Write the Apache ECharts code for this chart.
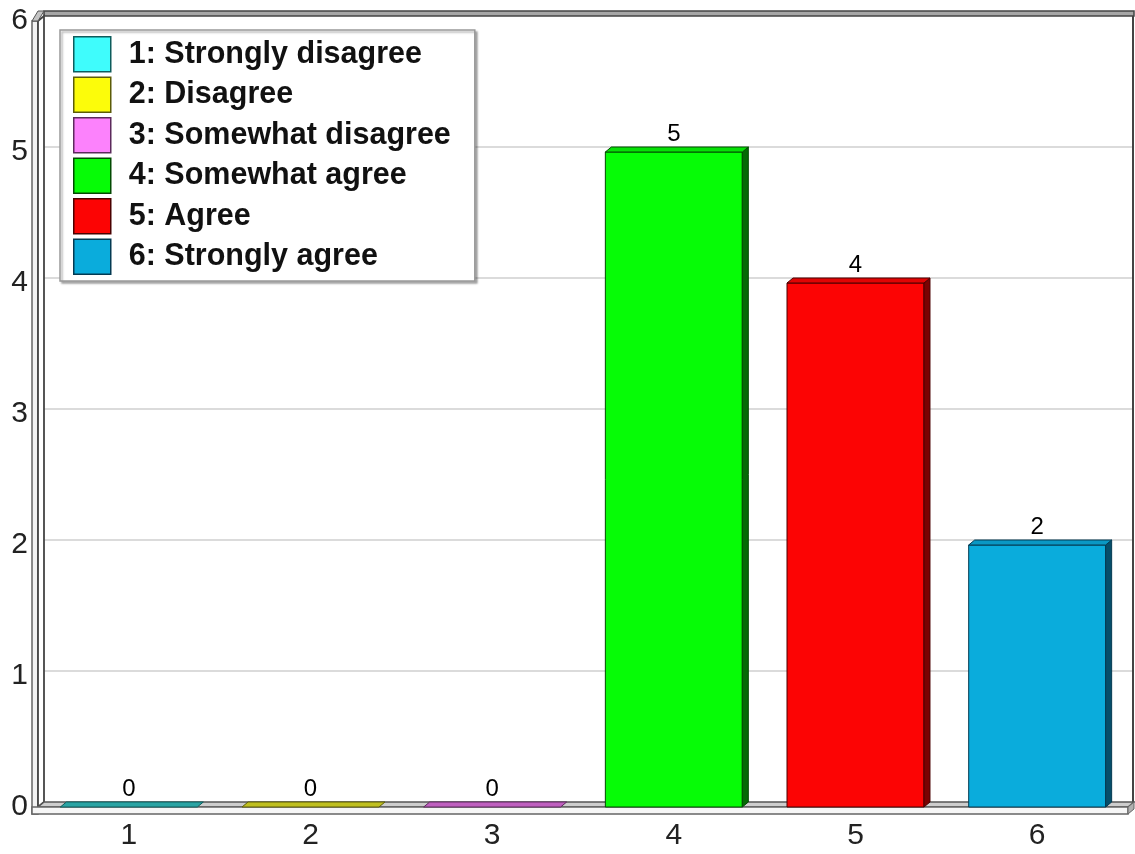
<!DOCTYPE html>
<html>
<head>
<meta charset="utf-8">
<script src="https://cdn.jsdelivr.net/npm/echarts@6/dist/echarts.min.js"></script>
<style>
  html, body { margin: 0; padding: 0; background: #ffffff; }
  #chart { width: 1135px; height: 854px; }
</style>
</head>
<body>
<div id="chart"></div>
<script>
// Survey answers: categories on the x axis, one response count per category
const categories = ['1', '2', '3', '4', '5', '6'];
const answerLabels = [
  '1: Strongly disagree',
  '2: Disagree',
  '3: Somewhat disagree',
  '4: Somewhat agree',
  '5: Agree',
  '6: Strongly agree'
];
const responseCounts = [0, 0, 0, 5, 4, 2];
const valueTicks = [0, 1, 2, 3, 4, 5, 6];

// Bar palette: front face, top face, side face, outline
const faceColors = ['#3ffcfc', '#fcfc0a', '#fc82fc', '#06fc06', '#fc0404', '#0aacdc'];
const topColors  = ['#2aa4a4', '#c0c020', '#c060c0', '#06e006', '#e00404', '#0a98c4'];
const sideColors = ['#1a7a7a', '#7a7a10', '#7a3a7a', '#046a04', '#7a0202', '#064e6a'];
const edgeColors = ['#0d5c5c', '#5c5c08', '#5c2a5c', '#034a03', '#4a0101', '#043a52'];

const DX = 6, DY = 5;          // depth offset used for the pseudo-3D look
const BAR_RATIO = 0.754;       // bar width as a share of the category band
const FONT = "'Liberation Sans', Arial, Helvetica, sans-serif";

function renderBar(params, api) {
  const i = api.value(0);
  const v = api.value(1);
  const base = api.coord([i, 0]);
  const top = api.coord([i, v]);
  const w = api.size([1, 0])[0] * BAR_RATIO;
  const x0 = base[0] - w / 2, x1 = base[0] + w / 2;
  const yb = base[1], yt = top[1];
  const children = [];
  if (yb - yt > 0.5) {
    children.push({
      type: 'rect',
      shape: { x: x0, y: yt, width: w, height: yb - yt },
      style: { fill: faceColors[i], stroke: edgeColors[i], lineWidth: 1 }
    });
    children.push({
      type: 'polygon',
      shape: { points: [[x1, yt], [x1 + DX, yt - DY], [x1 + DX, yb - DY], [x1, yb]] },
      style: { fill: sideColors[i], stroke: edgeColors[i], lineWidth: 1 }
    });
  }
  children.push({
    type: 'polygon',
    shape: { points: [[x0, yt], [x0 + DX, yt - DY], [x1 + DX, yt - DY], [x1, yt]] },
    style: { fill: topColors[i], stroke: edgeColors[i], lineWidth: 1 }
  });
  children.push({
    type: 'text',
    x: base[0],
    y: yt - DY - 0.5,
    style: {
      text: String(v), fill: '#000000',
      fontSize: 24, fontFamily: FONT,
      align: 'center', verticalAlign: 'bottom'
    }
  });
  return { type: 'group', children: children };
}

// Walls, floor and gridlines of the box around the plot
function renderFrame(params, api) {
  const cs = params.coordSys;
  const L = cs.x, R = cs.x + cs.width, T = cs.y, B = cs.y + cs.height;
  const OUT = L - 6;   // outer face of the left wall and floor slab
  const els = [];

  valueTicks.forEach(function (t) {
    if (t === valueTicks[0] || t === valueTicks[valueTicks.length - 1]) return;
    const y = api.coord([0, t])[1];
    els.push({ type: 'line', shape: { x1: L, y1: y, x2: L + DX, y2: y - DY },
               style: { stroke: '#cccccc', lineWidth: 1 } });
    els.push({ type: 'line', shape: { x1: L + DX, y1: y - DY, x2: R + DX, y2: y - DY },
               style: { stroke: '#cfcfcf', lineWidth: 1.5 } });
  });

  // back top edge
  els.push({ type: 'rect', shape: { x: L + DX, y: T - DY - 5, width: R - L, height: 5 },
             style: { fill: '#a6a6a6', stroke: '#444', lineWidth: 1.5 } });
  // right back edge
  els.push({ type: 'line', shape: { x1: R + DX - 1, y1: T - DY, x2: R + DX - 1, y2: B - DY },
             style: { stroke: '#444', lineWidth: 2 } });
  // left wall slab
  els.push({ type: 'rect', shape: { x: OUT, y: T, width: L - OUT, height: B + 7 - T },
             style: { fill: '#f2f2f2', stroke: '#666', lineWidth: 1.5 } });
  els.push({ type: 'polygon', shape: { points: [[L, T], [L + DX, T - DY], [L + DX, B - DY], [L, B]] },
             style: { fill: '#ffffff', stroke: '#444', lineWidth: 1.8 } });
  els.push({ type: 'polygon', shape: { points: [[OUT, T], [OUT + DX, T - DY - 5], [L + DX, T - DY - 5], [L, T]] },
             style: { fill: '#c4c4c4', stroke: '#555', lineWidth: 1 } });
  // floor
  els.push({ type: 'polygon', shape: { points: [[L, B], [L + DX, B - DY], [R + DX, B - DY], [R, B]] },
             style: { fill: '#cdcdcd', stroke: '#555', lineWidth: 1.5 } });
  els.push({ type: 'rect', shape: { x: OUT, y: B, width: R - OUT, height: 7 },
             style: { fill: '#f6f6f6', stroke: '#666', lineWidth: 1.5 } });
  els.push({ type: 'polygon', shape: { points: [[R, B], [R + DX, B - DY], [R + DX, B - DY + 7], [R, B + 7]] },
             style: { fill: '#b0b0b0', stroke: '#666', lineWidth: 1 } });
  return { type: 'group', children: els };
}

const chart = echarts.init(document.getElementById('chart'), null, { renderer: 'canvas' });

const barSeries = answerLabels.map(function (name, i) {
  return {
    type: 'custom',
    name: name,
    renderItem: renderBar,
    itemStyle: { color: faceColors[i] },
    encode: { x: 0, y: 1 },
    data: [[i, responseCounts[i]]],
    z: 3
  };
});

chart.setOption({
  animation: false,
  backgroundColor: '#ffffff',
  grid: { left: 38, right: 7, top: 21, bottom: 47 },
  xAxis: {
    type: 'category',
    data: categories,
    axisLine: { show: false },
    axisTick: { show: false },
    splitLine: { show: false },
    axisLabel: { fontSize: 30, fontFamily: FONT, color: '#222', margin: 14 }
  },
  yAxis: {
    type: 'value',
    min: valueTicks[0],
    max: valueTicks[valueTicks.length - 1],
    interval: 1,
    axisLine: { show: false },
    axisTick: { show: false },
    splitLine: { show: false },
    axisLabel: { fontSize: 30, fontFamily: FONT, color: '#222', margin: 10 }
  },
  legend: {
    orient: 'vertical',
    left: 60,
    top: 30,
    selectedMode: false,
    icon: 'rect',
    itemWidth: 37,
    itemHeight: 35,
    itemGap: 4,
    padding: [6, 24, 6, 13],
    backgroundColor: '#ffffff',
    borderColor: '#999999',
    borderWidth: 1.5,
    shadowColor: 'rgba(0,0,0,0.3)',
    shadowBlur: 2,
    shadowOffsetX: 2,
    shadowOffsetY: 2,
    textStyle: {
      fontFamily: FONT, fontSize: 30.5, fontWeight: 'bold', color: '#111',
      padding: [0, 0, 0, 13], lineHeight: 35
    },
    data: answerLabels.map(function (name, i) {
      return { name: name, itemStyle: { color: faceColors[i], borderColor: edgeColors[i], borderWidth: 1.5 } };
    })
  },
  series: [{
    type: 'custom',
    name: 'frame',
    silent: true,
    renderItem: renderFrame,
    data: [[0, 0]],
    z: 1
  }].concat(barSeries)
});
</script>
</body>
</html>
